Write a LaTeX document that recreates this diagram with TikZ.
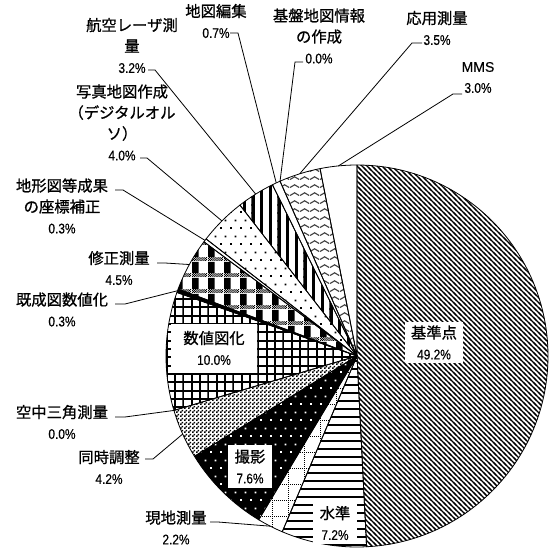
\documentclass[tikz,border=0pt]{standalone}
\usepackage{fontspec}
\setmainfont{Liberation Sans}[FakeBold=0.4]
\newfontfamily\jpfont{Noto Sans CJK JP}[FakeBold=0.9]
\newfontfamily\pctfont{Liberation Sans}[FakeStretch=0.85, FakeBold=0.4]
\usetikzlibrary{patterns,calc}

% fill patterns of the slices
\pgfdeclarepatternformonly{kijunlines}{\pgfqpoint{-1pt}{-1pt}}{\pgfqpoint{4.75pt}{4.75pt}}{\pgfqpoint{3.75pt}{3.75pt}}{%
  \pgfsetlinewidth{0.9pt}%
  \pgfpathmoveto{\pgfqpoint{-1pt}{4.75pt}}\pgfpathlineto{\pgfqpoint{4.75pt}{-1pt}}%
  \pgfusepath{stroke}}
\pgfdeclarepatternformonly{suijunlines}{\pgfqpoint{-0.5pt}{0pt}}{\pgfqpoint{6.5pt}{6pt}}{\pgfqpoint{6pt}{6pt}}{%
  \pgfpathrectangle{\pgfqpoint{-0.5pt}{2.3pt}}{\pgfqpoint{7pt}{1.5pt}}\pgfusepath{fill}}
\pgfdeclarepatternformonly{genchigrid}{\pgfqpoint{-0.5pt}{-0.5pt}}{\pgfqpoint{12pt}{12pt}}{\pgfqpoint{12pt}{12pt}}{%
  \pgfsetlinewidth{0.75pt}\pgfsetdash{{0.75pt}{0.75pt}}{0pt}%
  \pgfpathmoveto{\pgfqpoint{0pt}{0pt}}\pgfpathlineto{\pgfqpoint{12pt}{0pt}}%
  \pgfpathmoveto{\pgfqpoint{0pt}{0pt}}\pgfpathlineto{\pgfqpoint{0pt}{12pt}}%
  \pgfusepath{stroke}}
\pgfdeclarepatternformonly{sparsedots}{\pgfqpoint{0pt}{0pt}}{\pgfqpoint{7.5pt}{12pt}}{\pgfqpoint{7.5pt}{12pt}}{%
  \pgfpathrectangle{\pgfqpoint{0pt}{0pt}}{\pgfqpoint{1.5pt}{1.5pt}}%
  \pgfpathrectangle{\pgfqpoint{3.75pt}{6pt}}{\pgfqpoint{1.5pt}{1.5pt}}%
  \pgfusepath{fill}}
\pgfdeclarepatternformonly{finemesh}{\pgfqpoint{0pt}{0pt}}{\pgfqpoint{3pt}{3pt}}{\pgfqpoint{3pt}{3pt}}{%
  \pgfpathrectangle{\pgfqpoint{0pt}{0pt}}{\pgfqpoint{1.5pt}{1.5pt}}%
  \pgfpathrectangle{\pgfqpoint{1.5pt}{1.5pt}}{\pgfqpoint{1.5pt}{1.5pt}}%
  \pgfusepath{fill}}
\pgfdeclarepatternformonly{suchigrid}{\pgfqpoint{-0.8pt}{-0.8pt}}{\pgfqpoint{6.25pt}{6.25pt}}{\pgfqpoint{6.25pt}{6.25pt}}{%
  \pgfsetlinewidth{1.5pt}%
  \pgfpathmoveto{\pgfqpoint{-0.8pt}{0pt}}\pgfpathlineto{\pgfqpoint{6.25pt}{0pt}}%
  \pgfpathmoveto{\pgfqpoint{0pt}{-0.8pt}}\pgfpathlineto{\pgfqpoint{0pt}{6.25pt}}%
  \pgfusepath{stroke}}
\pgfdeclarepatternformonly{shuseiplaid}{\pgfqpoint{0pt}{0pt}}{\pgfqpoint{12pt}{12pt}}{\pgfqpoint{12pt}{12pt}}{%
  \pgfpathrectangle{\pgfqpoint{0pt}{3pt}}{\pgfqpoint{5.25pt}{9pt}}\pgfusepath{fill}%
  \pgfsetlinewidth{0.75pt}%
  \pgfsetdash{{0.75pt}{0.75pt}}{0pt}%
  \pgfpathmoveto{\pgfqpoint{0pt}{0.375pt}}\pgfpathlineto{\pgfqpoint{12pt}{0.375pt}}%
  \pgfpathmoveto{\pgfqpoint{0pt}{1.875pt}}\pgfpathlineto{\pgfqpoint{12pt}{1.875pt}}%
  \pgfusepath{stroke}%
  \pgfsetdash{{0.75pt}{0.75pt}}{0.75pt}%
  \pgfpathmoveto{\pgfqpoint{0pt}{1.125pt}}\pgfpathlineto{\pgfqpoint{12pt}{1.125pt}}%
  \pgfpathmoveto{\pgfqpoint{0pt}{2.625pt}}\pgfpathlineto{\pgfqpoint{12pt}{2.625pt}}%
  \pgfusepath{stroke}}
\pgfdeclarepatternformonly{laserstripes}{\pgfqpoint{0pt}{-0.5pt}}{\pgfqpoint{6.5pt}{6.5pt}}{\pgfqpoint{6.5pt}{6pt}}{%
  \pgfpathrectangle{\pgfqpoint{0pt}{-0.5pt}}{\pgfqpoint{2.6pt}{7pt}}\pgfusepath{fill}}
\pgfdeclarepatternformonly{oyowaves}{\pgfqpoint{0pt}{0pt}}{\pgfqpoint{7.5pt}{6.25pt}}{\pgfqpoint{7.5pt}{6.25pt}}{%
  \pgfsetlinewidth{0.9pt}%
  \pgfpathmoveto{\pgfqpoint{0pt}{2pt}}%
  \pgfpathcurveto{\pgfqpoint{1.875pt}{2pt}}{\pgfqpoint{1.875pt}{4.2pt}}{\pgfqpoint{3.75pt}{4.2pt}}%
  \pgfpathcurveto{\pgfqpoint{5.625pt}{4.2pt}}{\pgfqpoint{5.625pt}{2pt}}{\pgfqpoint{7.5pt}{2pt}}%
  \pgfusepath{stroke}}

\newcommand\pcnt[1]{{\pctfont\fontsize{10.5}{15.75}\selectfont #1\%}}

\tikzset{
  slice/.style={draw=black, line width=0.6pt, line join=round},
  leader/.style={draw=black, line width=0.6pt},
  lbl/.style={align=center, inner sep=0.75pt, font=\fontsize{11.5}{15.75}\selectfont},
  inlbl/.style={lbl, fill=white, inner sep=0pt},
}

\begin{document}
\begin{tikzpicture}[x=0.75pt,y=0.75pt,yscale=-1,xscale=1]
\useasboundingbox (0,0) rectangle (550,549);
\coordinate (c) at (357,356);

%Pie Slices
\draw[slice, pattern=kijunlines] (c) -- ++(-90:191) arc[start angle=-90, end angle=87.12, radius=191] -- cycle;
\draw[slice, pattern=suijunlines] (c) -- ++(87.12:191) arc[start angle=87.12, end angle=113.04, radius=191] -- cycle;
\draw[slice, pattern=genchigrid] (c) -- ++(113.04:191) arc[start angle=113.04, end angle=120.96, radius=191] -- cycle;
\draw[slice, preaction={fill=black}, pattern=sparsedots, pattern color=white] (c) -- ++(120.96:191) arc[start angle=120.96, end angle=148.32, radius=191] -- cycle;
\draw[slice, pattern=finemesh] (c) -- ++(148.32:191) arc[start angle=148.32, end angle=163.44, radius=191] -- cycle;
\draw[slice, pattern=suchigrid] (c) -- ++(163.44:191) arc[start angle=163.44, end angle=199.44, radius=191] -- cycle;
\draw[slice, fill=black] (c) -- ++(199.44:191) arc[start angle=199.44, end angle=200.52, radius=191] -- cycle;
\draw[slice, pattern=shuseiplaid] (c) -- ++(200.52:191) arc[start angle=200.52, end angle=216.72, radius=191] -- cycle;
\draw[slice] (c) -- ++(216.72:191) arc[start angle=216.72, end angle=217.8, radius=191] -- cycle;
\draw[slice, pattern=sparsedots] (c) -- ++(217.8:191) arc[start angle=217.8, end angle=232.2, radius=191] -- cycle;
\draw[slice, pattern=laserstripes] (c) -- ++(232.2:191) arc[start angle=232.2, end angle=243.72, radius=191] -- cycle;
\draw[slice] (c) -- ++(243.72:191) arc[start angle=243.72, end angle=246.24, radius=191] -- cycle;
\draw[slice, pattern=oyowaves, pattern color=black!75] (c) -- ++(246.24:191) arc[start angle=246.24, end angle=258.84, radius=191] -- cycle;
\draw[slice] (c) -- ++(258.84:191) arc[start angle=258.84, end angle=270, radius=191] -- cycle;

% Labels inside the pie
\node[inlbl, minimum width=43.5pt, minimum height=31pt] (kijun) at (434,342.5) {{\jpfont 基準点}\\\pcnt{49.2}};
\node[inlbl, minimum width=65pt, minimum height=36.75pt] (suchi) at (214,348) {{\jpfont 数値図化}\\\pcnt{10.0}};
\node[inlbl, minimum width=33pt, minimum height=32pt] (satsuei) at (250,466.5) {{\jpfont 撮影}\\\pcnt{7.6}};
\node[inlbl, minimum width=33pt, minimum height=32pt] (suijun) at (335,523) {{\jpfont 水準}\\\pcnt{7.2}};

% Text Node
\node[lbl] (zuhen) at (216,21) {{\jpfont 地図編集}\\\pcnt{0.7}};
\node[lbl] (laser) at (132,45.5) {{\jpfont 航空レーザ測}\\{\jpfont 量}\\\pcnt{3.2}};
\node[lbl] (ortho) at (122,122.5) {{\jpfont 写真地図作成}\\{\jpfont （デジタルオル}\\{\jpfont ソ）}\\\pcnt{4.0}};
\node[lbl] (zahyo) at (62,206) {{\jpfont 地形図等成果}\\{\jpfont の座標補正}\\\pcnt{0.3}};
\node[lbl] (shusei) at (119,268) {{\jpfont 修正測量}\\\pcnt{4.5}};
\node[lbl] (kisei) at (62,309.5) {{\jpfont 既成図数値化}\\\pcnt{0.3}};
\node[lbl] (sankaku) at (62,422) {{\jpfont 空中三角測量}\\\pcnt{0.0}};
\node[lbl] (doji) at (109,467) {{\jpfont 同時調整}\\\pcnt{4.2}};
\node[lbl] (genchi) at (176,527.5) {{\jpfont 現地測量}\\\pcnt{2.2}};
\node[lbl] (kiban) at (319,36) {{\jpfont 基盤地図情報}\\{\jpfont の作成}\\\pcnt{0.0}};
\node[lbl] (oyo) at (437,28) {{\jpfont 応用測量}\\\pcnt{3.5}};
\node[lbl] (mms) at (478,77.5) {{\fontsize{10.5}{15.75}\selectfont MMS}\\\pcnt{3.0}};

%Leader ends
\coordinate (zuhen-s) at (230,33);    \coordinate (zuhen-p) at ($(c)+(244.98:191)$);
\coordinate (laser-s) at (148,70);    \coordinate (laser-p) at ($(c)+(237.96:191)$);
\coordinate (ortho-s) at (140,158);   \coordinate (ortho-p) at ($(c)+(225:191)$);
\coordinate (zahyo-s) at (115,190);   \coordinate (zahyo-p) at ($(c)+(217.26:191)$);
\coordinate (shusei-s) at (157,263);  \coordinate (shusei-p) at ($(c)+(208.62:191)$);
\coordinate (kisei-s) at (115,304);   \coordinate (kisei-p) at ($(c)+(199.98:191)$);
\coordinate (sankaku-s) at (115,417); \coordinate (sankaku-p) at ($(c)+(163.44:191)$);
\coordinate (doji-s) at (145,459);    \coordinate (doji-p) at ($(c)+(155.88:191)$);
\coordinate (genchi-s) at (210,522);  \coordinate (genchi-p) at ($(c)+(117:191)$);
\coordinate (kiban-s) at (303,62);    \coordinate (kiban-p) at ($(c)+(246.24:191)$);
\coordinate (oyo-s) at (422,43);      \coordinate (oyo-p) at ($(c)+(252.54:191)$);
\coordinate (mms-s) at (462,94);      \coordinate (mms-p) at ($(c)+(264.42:191)$);

%Straight Lines
\draw[leader] (zuhen-s) -- ++(8,0) -- (zuhen-p);
\draw[leader] (laser-s) -- ++(7,0) -- (laser-p);
\draw[leader] (ortho-s) -- ++(7,0) -- (ortho-p);
\draw[leader] (zahyo-s) -- ++(8,0) -- (zahyo-p);
\draw[leader] (shusei-s) -- ++(8,0) -- (shusei-p);
\draw[leader] (kisei-s) -- ++(10,0) -- (kisei-p);
\draw[leader] (sankaku-s) -- ++(10,0) -- (sankaku-p);
\draw[leader] (doji-s) -- ++(8,0) -- (doji-p);
\draw[leader] (genchi-s) -- ++(8,0) -- (genchi-p);
\draw[leader] (kiban-s) -- ++(-8,0) -- (kiban-p);
\draw[leader] (oyo-s) -- ++(-10,0) -- (oyo-p);
\draw[leader] (mms-s) -- ++(-9,0) -- (mms-p);

\end{tikzpicture}
\end{document}
